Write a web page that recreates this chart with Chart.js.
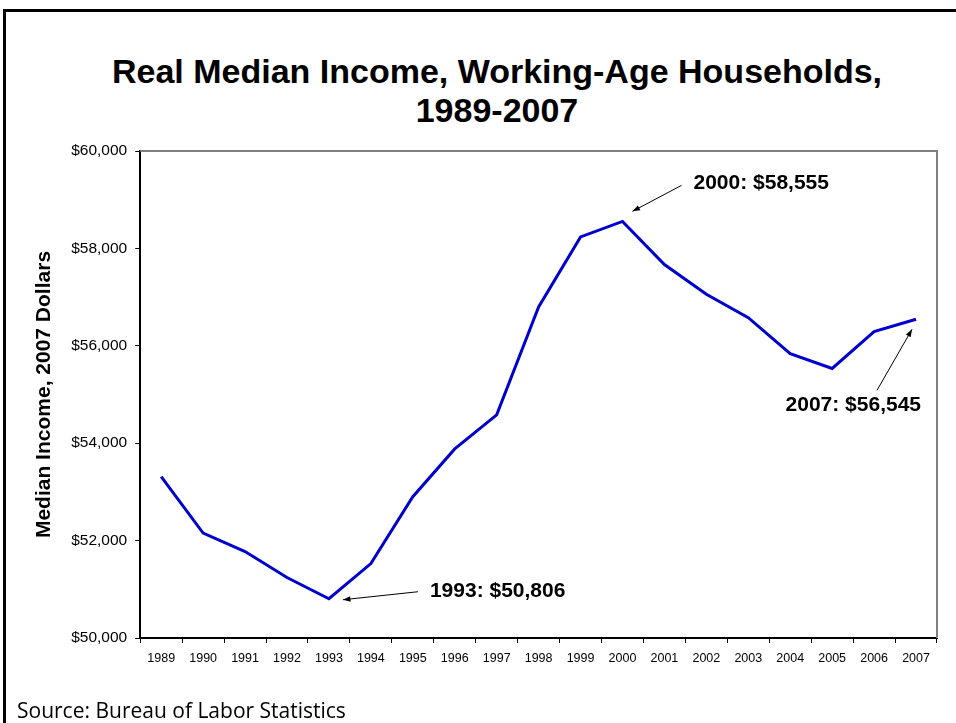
<!DOCTYPE html>
<html>
<head>
<meta charset="utf-8">
<script src="https://cdn.jsdelivr.net/npm/chart.js@4/dist/chart.umd.min.js"></script>
<style>
  html, body { margin: 0; padding: 0; background: #fff; }
  #wrap { position: relative; width: 956px; height: 723px; overflow: hidden; }
  #frame { position: absolute; left: 3px; top: 9px; width: 980px; height: 740px;
           border-top: 3px solid #000; border-left: 3px solid #000; }
  #title { position: absolute; left: 0; top: 52px; width: 994px; text-align: center;
           font: bold 34px "Liberation Sans", Arial, sans-serif; line-height: 39px; color: #000; }
  #source { position: absolute; left: 17px; top: 696px;
            font: 21px "Open Sans", sans-serif; color: #000; }
  canvas { position: absolute; left: 0; top: 0; }
</style>
</head>
<body>
<div id="wrap">
  <div id="frame"></div>
  <div id="title">Real Median Income, Working-Age Households,<br>1989-2007</div>
  <canvas id="Chart" width="956" height="723"></canvas>
  <div id="source">Source: Bureau of Labor Statistics</div>
</div>
<script>
// 年ごとのデータ
const years = ["1989","1990","1991","1992","1993","1994","1995","1996","1997","1998",
               "1999","2000","2001","2002","2003","2004","2005","2006","2007"];
const income = [53313, 52154, 51776, 51241, 50806, 51529, 52901, 53883, 54582, 56796,
                58237, 58555, 57669, 57058, 56578, 55837, 55535, 56290, 56545];
const yTicks = [50000, 52000, 54000, 56000, 58000, 60000];
const notes = [
  { i: 4,  text: "1993: $50,806" },
  { i: 11, text: "2000: $58,555" },
  { i: 18, text: "2007: $56,545" }
];

const FONT = '"Liberation Sans", Arial, sans-serif';

// arrow + label, offsets from the data point
const noteStyle = {
  4:  { tip: [14, 1],  tail: [89, -7],  tx: 101, ty: -8, align: "left" },
  11: { tip: [10, -10], tail: [59, -36], tx: 71, ty: -38, align: "left" },
  18: { tip: [-4, 10], tail: [-39, 71], tx: 5,  ty: 86, align: "right" }
};

function arrow(ctx, x1, y1, x2, y2) {
  const a = Math.atan2(y2 - y1, x2 - x1);
  ctx.beginPath();
  ctx.moveTo(x1, y1);
  ctx.lineTo(x2, y2);
  ctx.stroke();
  ctx.beginPath();
  ctx.moveTo(x2, y2);
  ctx.lineTo(x2 - 8 * Math.cos(a - 0.35), y2 - 8 * Math.sin(a - 0.35));
  ctx.lineTo(x2 - 8 * Math.cos(a + 0.35), y2 - 8 * Math.sin(a + 0.35));
  ctx.closePath();
  ctx.fill();
}

const framePlugin = {
  id: "frame",
  beforeDatasetsDraw(chart) {
    const { ctx, chartArea: a } = chart;
    ctx.save();
    ctx.strokeStyle = "#808080";
    ctx.lineWidth = 2;
    ctx.beginPath();
    ctx.moveTo(a.left, a.top);
    ctx.lineTo(a.right, a.top);
    ctx.lineTo(a.right, a.bottom);
    ctx.stroke();
    ctx.restore();
  },
  afterDatasetsDraw(chart) {
    const { ctx } = chart;
    const meta = chart.getDatasetMeta(0);
    ctx.save();
    ctx.strokeStyle = "#000";
    ctx.fillStyle = "#000";
    ctx.lineWidth = 1;
    notes.forEach(n => {
      const p = meta.data[n.i];
      const s = noteStyle[n.i];
      arrow(ctx, p.x + s.tail[0], p.y + s.tail[1], p.x + s.tip[0], p.y + s.tip[1]);
      ctx.font = "bold 21px " + FONT;
      ctx.textAlign = s.align;
      ctx.textBaseline = "middle";
      ctx.fillText(n.text, p.x + s.tx, p.y + s.ty);
    });
    ctx.restore();
  }
};

let lineCtx = document.getElementById("Chart");
let lineConfig = {
  type: "line",
  data: {
    labels: years,
    datasets: [{
      label: "Median income",
      data: income,
      borderColor: "rgb(0, 0, 204)",
      borderWidth: 3,
      pointRadius: 0,
      tension: 0,
      fill: false
    }]
  },
  options: {
    responsive: false,
    animation: false,
    layout: { padding: { left: 30, right: 19, top: 151, bottom: 49 } },
    plugins: {
      legend: { display: false },
      tooltip: { enabled: false }
    },
    scales: {
      x: {
        offset: true,
        grid: { offset: true, drawOnChartArea: false, drawTicks: true, tickLength: 5, color: "#000" },
        border: { color: "#000", width: 2 },
        ticks: { color: "#000", padding: 8, maxRotation: 0, autoSkip: false, font: { family: FONT, size: 12.5 } }
      },
      y: {
        min: yTicks[0],
        max: yTicks[yTicks.length - 1],
        afterBuildTicks(scale) { scale.ticks = yTicks.map(v => ({ value: v })); },
        grid: { drawOnChartArea: false, drawTicks: true, tickLength: 5, color: "#000" },
        border: { color: "#000", width: 2 },
        ticks: {
          color: "#000", padding: 8, font: { family: FONT, size: 15.5 },
          callback: v => "$" + v.toLocaleString("en-US")
        },
        title: {
          display: true,
          text: "Median Income, 2007 Dollars",
          color: "#000",
          padding: { top: 2, bottom: 6 },
          font: { family: FONT, size: 21, weight: "bold" }
        }
      }
    }
  },
  plugins: [framePlugin]
};
let lineChart = new Chart(lineCtx, lineConfig);
</script>
</body>
</html>
